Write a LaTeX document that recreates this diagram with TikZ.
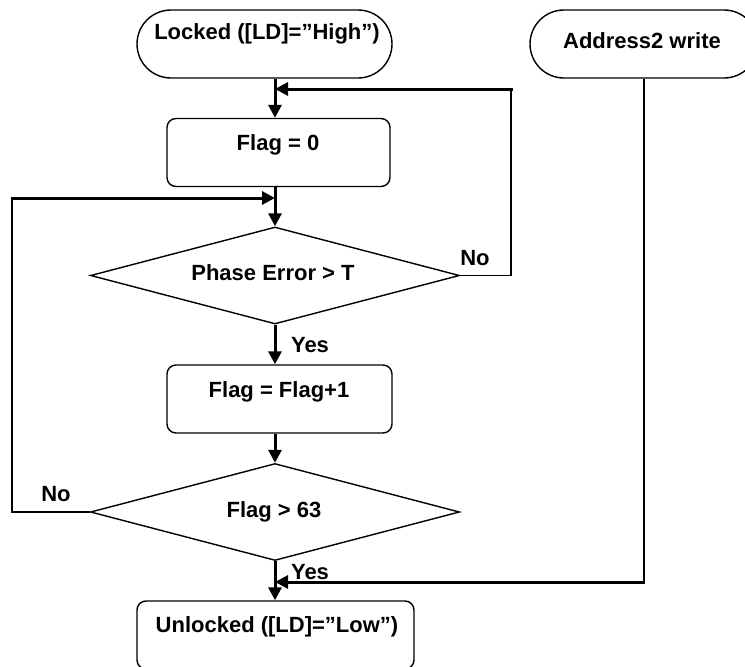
\documentclass[tikz,border=0pt]{standalone}
\usepackage{fontspec}
\setmainfont{Liberation Sans}
\usetikzlibrary{shapes.geometric,arrows.meta,calc}
\begin{document}
\begin{tikzpicture}[x=1pt,y=-1pt,
  term/.style={draw,line width=1.4pt,rounded corners=34pt,inner sep=0pt,minimum height=68pt},
  procbox/.style={draw,line width=1.4pt,rounded corners=9pt,inner sep=0pt,minimum height=68pt},
  decision/.style={draw,diamond,line width=1.4pt,inner sep=0pt,minimum width=369pt,minimum height=97pt},
  lbl/.style={anchor=base,inner sep=0pt,font=\fontsize{22}{26}\selectfont\bfseries},
  flow/.style={line width=3pt,-{Triangle[length=13pt,width=13pt]}},
  thinline/.style={line width=1.4pt}]
\useasboundingbox (0,0) rectangle (745,667);
\clip (0,0) rectangle (745,667);
% shapes
\node[term,minimum width=255pt] (lock) at (264.5,44) {};
\node[term,minimum width=228pt] (addr) at (644,44) {};
\node[procbox,minimum width=223pt] (flag0) at (278.5,152.5) {};
\node[decision] (d1) at (275,275.5) {};
\node[procbox,minimum width=225pt] (flag1) at (279.5,399) {};
\node[decision] (d2) at (275,512) {};
\node[procbox,minimum width=277pt] (unl) at (275.5,635) {};
% texts
\node[lbl] (tlock) at (267,39) {Locked ([LD]=”High”)};
\node[lbl] (taddr) at (642,48) {Address2 write};
\node[lbl] (tflag0) at (278,150) {Flag = 0};
\node[lbl] (td1) at (273,280) {Phase Error > T};
\node[lbl] (tflag1) at (279,397) {Flag = Flag+1};
\node[lbl] (td2) at (274,517) {Flag > 63};
\node[lbl] (tunl) at (277,632) {Unlocked ([LD]=”Low”)};
\node[lbl] (no1) at (475,265) {No};
\node[lbl] (no2) at (56,501) {No};
\node[lbl] (yes1) at (310,352) {Yes};
\node[lbl] (yes2) at (310,579) {Yes};
% helper coordinates
\coordinate (nR) at (511,89);
\coordinate (nL) at (12,198);
\coordinate (aB) at (644,582);
% main flow
\draw[flow] (lock.south -| d1.north) -- (flag0.north -| d1.north);
\draw[flow] (flag0.south -| d1.north) -- (d1.north);
\draw[flow] (d1.south) -- (flag1.north -| d1.south);
\draw[flow] (flag1.south -| d2.north) -- (d2.north);
\draw[flow] (d2.south) -- (unl.north -| d2.south);
% feedback No (phase error)
\draw[thinline] (d1.east) -| (nR);
\draw[flow] ($(nR)+(1.5,0)$) -- (nR -| d1.north);
% feedback No (flag > 63)
\draw[thinline] (d2.west) -| (nL);
\draw[flow] ($(nL)+(-0.7,0)$) -- (nL -| d1.north);
% address2 write
\draw[thinline] (addr.south) -- (aB);
\draw[flow] ($(aB)+(0.7,0)$) -- (aB -| d2.south);
\end{tikzpicture}
\end{document}
